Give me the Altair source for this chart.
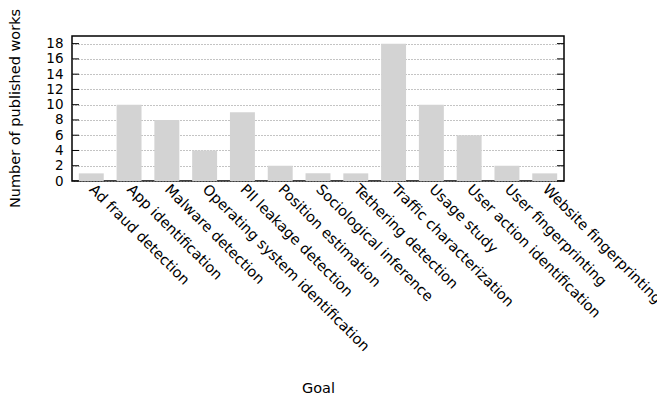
import altair as alt
import pandas as pd

goals = ["Ad fraud detection", "App identification", "Malware detection",
         "Operating system identification", "PII leakage detection",
         "Position estimation", "Sociological inference", "Tethering detection",
         "Traffic characterization", "Usage study", "User action identification",
         "User fingerprinting", "Website fingerprinting"]
counts = [1, 10, 8, 4, 9, 2, 1, 1, 18, 10, 6, 2, 1]
yticks = [0, 2, 4, 6, 8, 10, 12, 14, 16, 18]

df = pd.DataFrame({"Goal": goals, "Count": counts})
tdf = pd.DataFrame({"t": yticks})

W, H = 492, 145
FONT = "DejaVu Sans"
FS = 14.5

yscale = alt.Scale(domain=[0, 19], nice=False, zero=True)
yaxis = alt.Axis(title="Number of published works", values=yticks,
                 tickSize=0, labelPadding=9, domain=False,
                 grid=True, gridDash=[1, 2], gridColor="#888888",
                 gridWidth=1, labelFontSize=13.5, titleFontSize=FS,
                 titleFontWeight="normal", titleX=-57, titleY=72,
                 titleAngle=-90, titleBaseline="middle",
                 titleAlign="center", labelColor="black",
                 titleColor="black", labelFont=FONT, titleFont=FONT,
                 labelOverlap=False)

bars = alt.Chart(df).mark_bar(color="#d3d3d3").encode(
    x=alt.X("Goal:N", sort=goals,
            scale=alt.Scale(paddingInner=0.34, paddingOuter=0.18),
            axis=alt.Axis(title="Goal", labelAngle=45, labelAlign="left",
                          labelBaseline="middle", tickSize=0, labelPadding=6,
                          domain=False, labelFontSize=FS, titleFontSize=FS,
                          titleFontWeight="normal", titleY=207,
                          titleBaseline="middle", labelColor="black",
                          titleColor="black", labelFont=FONT, titleFont=FONT,
                          labelLimit=0, labelOverlap=False)),
    y=alt.Y("Count:Q", scale=yscale, axis=yaxis, title="Number of published works"),
)

left_ticks = alt.Chart(tdf).mark_rule(color="black", strokeWidth=1).encode(
    y=alt.Y("t:Q", scale=yscale, axis=yaxis, title="Number of published works"),
    x=alt.value(0), x2=alt.value(7))
right_ticks = alt.Chart(tdf).mark_rule(color="black", strokeWidth=1).encode(
    y=alt.Y("t:Q", scale=yscale, axis=yaxis, title="Number of published works"),
    x=alt.value(W - 7), x2=alt.value(W))

chart = alt.layer(bars, left_ticks, right_ticks).properties(
    width=W, height=H,
    autosize=alt.AutoSizeParams(type="none"),
    padding={"left": 64, "top": 28, "right": 93, "bottom": 214},
).configure_view(stroke="black", strokeWidth=1.5)

chart.save("out.html", embed_options={"renderer": "svg", "actions": False})
